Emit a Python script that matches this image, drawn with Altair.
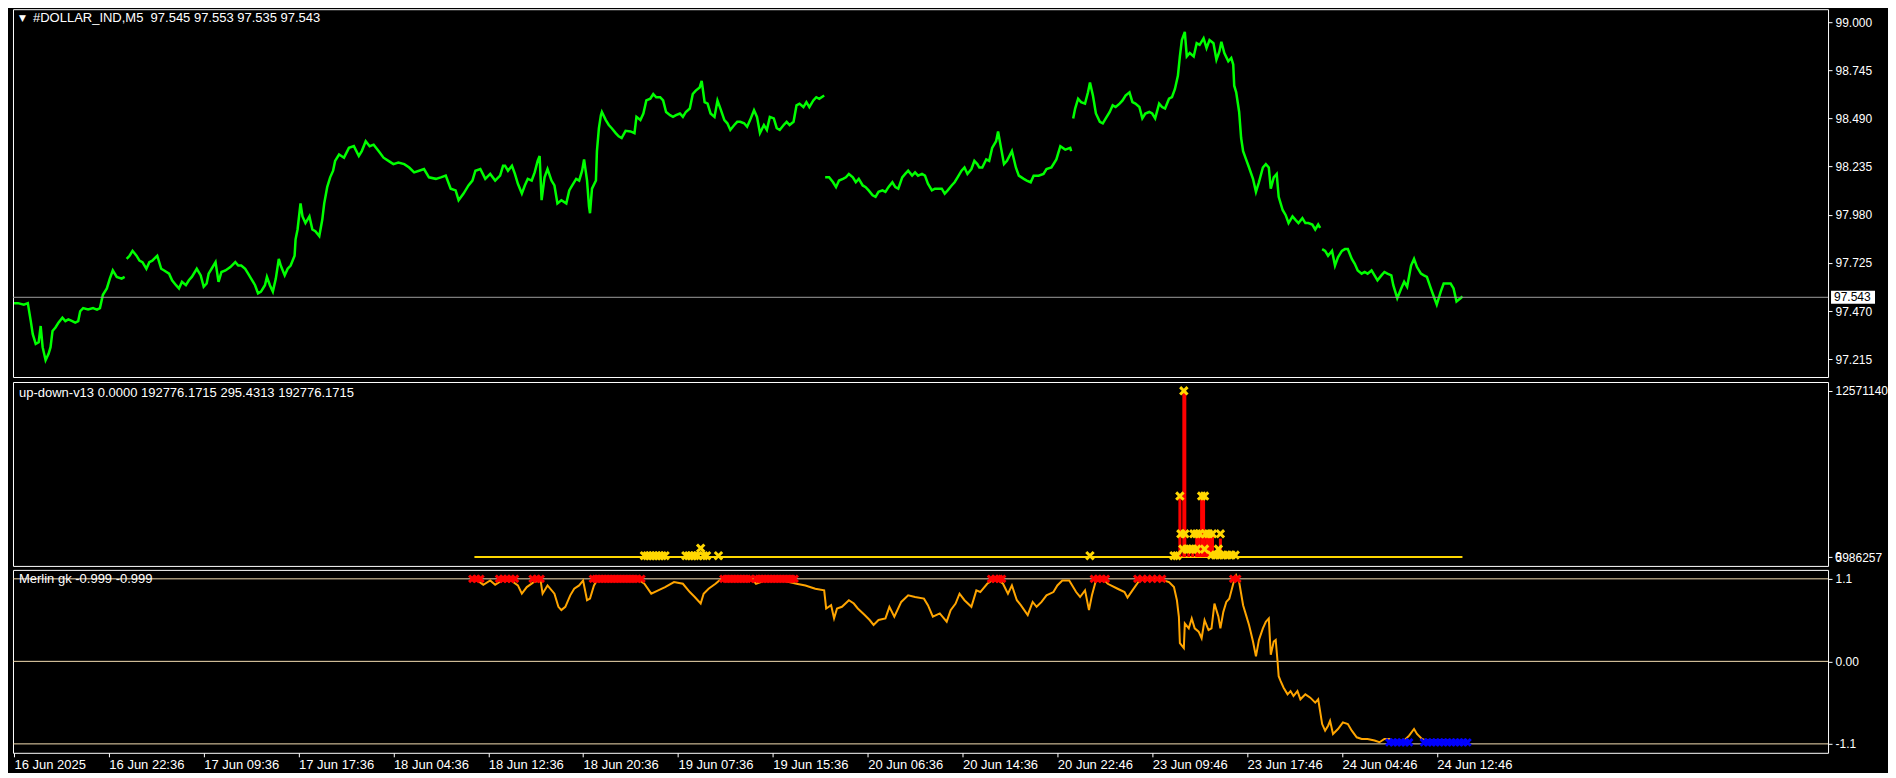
import altair as alt
import pandas as pd

# ---------------- price panel: #DOLLAR_IND, M5 (bar index, close) ----------------
seg1_x = [3, 7, 13, 17, 20, 22, 25, 28, 30, 32, 35, 38, 40, 42, 45, 48, 52, 55, 58, 62, 65, 68, 70, 73, 78, 83, 87, 90, 93, 97, 100, 103, 107, 112, 115]
seg1_p = [97.512, 97.512, 97.504, 97.512, 97.417, 97.348, 97.296, 97.305, 97.391, 97.279, 97.210, 97.244, 97.279, 97.365, 97.383, 97.409, 97.435, 97.417, 97.426, 97.417, 97.409, 97.417, 97.469, 97.486, 97.478, 97.486, 97.478, 97.486, 97.556, 97.590, 97.642, 97.685, 97.651, 97.642, 97.651]

seg2_x = [117, 120, 123, 127, 130, 133, 137, 140, 143, 148, 152, 155, 160, 163, 167, 170, 173, 177, 180, 183, 188, 192, 195, 198, 200, 203, 207, 210, 213, 217, 222, 227, 230, 233, 237, 240, 243, 247, 250, 253, 257, 259, 262, 265, 268, 271, 273, 277, 280, 283, 287, 288, 290, 293, 295, 298, 302, 305, 308, 312, 315, 317, 320, 323, 326, 328, 332, 337, 342, 347, 352, 355, 359, 363, 367, 372, 377, 382, 387, 392, 398, 403, 408, 413, 418, 423, 430, 435, 440, 445, 450, 453, 458, 463, 467, 470, 475, 480, 485, 490, 495, 498,
          500, 503, 507, 510, 513, 517, 520, 523, 527, 530, 533, 535, 537, 540, 543, 547, 550, 553, 557, 562, 565, 568, 572, 575, 578, 580, 583, 585, 586, 588, 592, 593, 595, 597, 598, 602, 605, 608, 612, 615, 618, 622, 627, 631, 633, 637, 640, 643, 647, 650, 653, 657, 660, 663, 667, 670, 673, 677, 680, 683, 687, 690, 693, 697, 699, 702, 705, 708, 712, 715, 718, 722, 725, 728, 732, 735, 738, 742, 745, 748, 752, 755, 758, 762, 765, 768, 772, 775, 778, 782, 785, 788, 792, 795, 798, 802, 805, 808, 812, 815, 818, 823]
seg2_p = [97.746, 97.763, 97.789, 97.763, 97.737, 97.729, 97.694, 97.729, 97.737, 97.763, 97.694, 97.685, 97.668, 97.633, 97.607, 97.590, 97.625, 97.607, 97.633, 97.651, 97.694, 97.659, 97.599, 97.616, 97.668, 97.694, 97.729, 97.625, 97.677, 97.685, 97.703, 97.729, 97.711, 97.711, 97.694, 97.668, 97.642, 97.607, 97.564, 97.573, 97.607, 97.651, 97.607, 97.573, 97.642, 97.746, 97.711, 97.659, 97.694, 97.711, 97.763, 97.850, 97.902, 98.040, 97.971, 97.936, 97.971, 97.902, 97.893, 97.867, 97.953, 98.040, 98.126, 98.178, 98.213, 98.265, 98.299, 98.282, 98.334, 98.343, 98.291, 98.317, 98.369, 98.343, 98.351, 98.317, 98.282, 98.265, 98.248, 98.256, 98.248, 98.230, 98.204, 98.213, 98.222, 98.178, 98.170, 98.178, 98.187, 98.118, 98.109, 98.057, 98.092, 98.135, 98.161, 98.213, 98.222, 98.170, 98.196, 98.161, 98.187, 98.239,
          98.239, 98.213, 98.239, 98.196, 98.144, 98.092, 98.135, 98.170, 98.161, 98.204, 98.265, 98.291, 98.057, 98.178, 98.222, 98.161, 98.135, 98.040, 98.057, 98.040, 98.109, 98.135, 98.170, 98.161, 98.213, 98.273, 98.161, 98.023, 97.988, 98.118, 98.161, 98.317, 98.438, 98.507, 98.524, 98.481, 98.455, 98.438, 98.412, 98.395, 98.386, 98.424, 98.421, 98.412, 98.498, 98.481, 98.516, 98.585, 98.594, 98.619, 98.602, 98.602, 98.585, 98.524, 98.507, 98.498, 98.507, 98.516, 98.498, 98.524, 98.542, 98.619, 98.637, 98.654, 98.689, 98.576, 98.568, 98.516, 98.498, 98.585, 98.542, 98.481, 98.464, 98.429, 98.455, 98.472, 98.472, 98.464, 98.446, 98.481, 98.533, 98.498, 98.412, 98.455, 98.429, 98.498, 98.490, 98.438, 98.429, 98.455, 98.472, 98.455, 98.472, 98.559, 98.568, 98.550, 98.576, 98.550, 98.585, 98.602, 98.594, 98.611]

seg3_x = [824, 828, 832, 835, 838, 842, 845, 848, 852, 855, 858, 862, 865, 868, 872, 875, 878, 882, 885, 888, 892, 895, 898, 902, 905, 908, 912, 915, 918, 922, 925, 928, 932, 935, 938, 942, 945, 948, 952, 955, 958, 962, 965, 968, 972, 975, 978, 980, 983, 987, 990, 993, 997, 999, 1002, 1005, 1008, 1013, 1017, 1020, 1025, 1028, 1032, 1035, 1040, 1045, 1048, 1053, 1058, 1062, 1067, 1072, 1073]
seg3_p = [98.178, 98.178, 98.152, 98.126, 98.161, 98.170, 98.178, 98.196, 98.178, 98.152, 98.170, 98.135, 98.126, 98.109, 98.083, 98.075, 98.101, 98.109, 98.101, 98.126, 98.152, 98.126, 98.118, 98.178, 98.196, 98.213, 98.187, 98.204, 98.187, 98.196, 98.187, 98.144, 98.109, 98.118, 98.118, 98.118, 98.092, 98.109, 98.135, 98.152, 98.178, 98.213, 98.230, 98.196, 98.222, 98.265, 98.248, 98.230, 98.230, 98.273, 98.265, 98.334, 98.369, 98.421, 98.334, 98.248, 98.265, 98.317, 98.230, 98.187, 98.170, 98.161, 98.152, 98.187, 98.187, 98.196, 98.222, 98.230, 98.273, 98.343, 98.325, 98.334, 98.317]

seg4_x = [1075, 1077, 1080, 1083, 1087, 1090, 1092, 1095, 1098, 1102, 1105, 1108, 1112, 1115, 1118, 1122, 1125, 1128, 1132, 1135, 1138, 1142, 1145, 1148, 1152, 1155, 1158, 1162, 1165, 1168, 1172, 1175, 1178, 1181, 1183, 1185, 1188, 1190, 1193, 1197, 1200, 1203, 1207, 1210, 1213, 1217, 1220, 1223, 1225, 1228, 1232, 1235, 1237, 1238, 1240, 1243, 1245, 1247, 1250, 1253, 1257, 1260, 1263, 1267, 1270, 1273, 1275, 1278, 1281, 1283, 1287, 1290, 1293, 1297, 1300, 1303, 1307, 1310, 1313, 1317, 1320, 1323, 1325]
seg4_p = [98.490, 98.542, 98.594, 98.576, 98.568, 98.628, 98.680, 98.611, 98.516, 98.472, 98.464, 98.490, 98.524, 98.559, 98.550, 98.568, 98.585, 98.611, 98.628, 98.576, 98.568, 98.550, 98.490, 98.516, 98.524, 98.516, 98.490, 98.568, 98.550, 98.542, 98.594, 98.602, 98.646, 98.715, 98.818, 98.905, 98.948, 98.818, 98.836, 98.818, 98.888, 98.879, 98.914, 98.862, 98.905, 98.888, 98.801, 98.844, 98.896, 98.836, 98.792, 98.810, 98.775, 98.663, 98.628, 98.524, 98.386, 98.317, 98.273, 98.230, 98.170, 98.101, 98.152, 98.230, 98.248, 98.230, 98.118, 98.178, 98.196, 98.075, 98.005, 97.979, 97.936, 97.971, 97.953, 97.936, 97.962, 97.936, 97.936, 97.928, 97.902, 97.928, 97.910]

seg5_x = [1327, 1330, 1333, 1337, 1340, 1343, 1347, 1350, 1353, 1357, 1360, 1363, 1367, 1370, 1373, 1377, 1380, 1383, 1387, 1390, 1393, 1397, 1399, 1403, 1407, 1410, 1413, 1417, 1420, 1423, 1427, 1430, 1433, 1437, 1440, 1443, 1447, 1450, 1453, 1457, 1460, 1463, 1467, 1469]
seg5_p = [97.798, 97.789, 97.763, 97.789, 97.711, 97.755, 97.789, 97.798, 97.798, 97.746, 97.720, 97.685, 97.668, 97.677, 97.668, 97.685, 97.659, 97.633, 97.659, 97.677, 97.668, 97.659, 97.607, 97.538, 97.590, 97.625, 97.599, 97.711, 97.746, 97.703, 97.668, 97.659, 97.651, 97.590, 97.547, 97.504, 97.573, 97.616, 97.616, 97.616, 97.590, 97.521, 97.538, 97.547]

last_price = 97.543
price_ticks = [97.215, 97.470, 97.725, 97.980, 98.235, 98.490, 98.745, 99.000]
price_title = "#DOLLAR_IND,M5\u00a0\u00a097.545 97.553 97.535 97.543"

# ---------------- up-down-v13 panel ----------------
ud_bar_x = [1183, 1187, 1188, 1192, 1196, 1200, 1202, 1205, 1207, 1210, 1213, 1216, 1224]
ud_bar_v = [4610000, 12571140, 12571140, 600000, 600000, 1760000, 1760000, 4610000, 4610000, 1760000, 1760000, 1760000, 1400000]
ud_mark_x = [641, 644, 647, 650, 653, 656, 659, 662, 683, 686, 689, 692, 695, 701, 704, 698, 716, 1092,
             1177, 1180, 1183, 1187, 1205, 1208,
             1184, 1188, 1197, 1200, 1203, 1209, 1212, 1216, 1224,
             1186, 1190, 1193, 1196, 1200, 1208, 1222,
             1215, 1219, 1223, 1227, 1231, 1235, 1239]
ud_mark_v = [100000, 100000, 100000, 100000, 100000, 100000, 100000, 100000, 100000, 100000, 100000, 100000, 100000, 100000, 100000, 670000, 100000, 100000,
             100000, 100000, 4610000, 12571140, 4610000, 4610000,
             1760000, 1760000, 1760000, 1760000, 1760000, 1760000, 1760000, 1760000, 1760000,
             600000, 600000, 600000, 600000, 600000, 600000, 600000,
             150000, 150000, 150000, 150000, 150000, 150000, 150000]
ud_line_from, ud_line_to, ud_line_v = 469, 1469, 0
ud_max = 12571140
ud_title = "up-down-v13 0.0000 192776.1715 295.4313 192776.1715"

# ---------------- Merlin gk panel ----------------
merlin_x = [467, 472, 478, 485, 490, 497, 506, 513, 517, 522, 529, 536, 538, 543, 550, 554, 557, 561, 566, 570, 575, 579, 583, 586, 590, 593, 598, 612, 634, 641, 648, 655, 662, 671, 680, 687, 692, 698, 701, 706, 713, 717, 722, 750, 754, 763, 781, 795, 804, 814, 823, 825, 830, 833, 836, 841, 848, 853, 857, 864, 869, 873, 878, 885, 889, 894, 901, 908, 915, 924, 928, 933, 940, 947, 951, 956, 960, 965, 972, 977, 981, 988, 993, 997, 1004, 1009, 1013, 1018, 1022, 1029, 1034, 1038, 1043, 1048, 1055, 1059, 1064, 1071, 1078, 1082, 1087, 1091, 1094, 1098, 1107,
            1110, 1120, 1127, 1130, 1135, 1142, 1147, 1167, 1172, 1177, 1180, 1182, 1183, 1187, 1188, 1192, 1195, 1198, 1202, 1205, 1208, 1212, 1215, 1218, 1222, 1224, 1227, 1230, 1233, 1237, 1240, 1243, 1247, 1250, 1253, 1257, 1260, 1263, 1267, 1270, 1273, 1275, 1278, 1280, 1282, 1283, 1285, 1288, 1292, 1295, 1298, 1302, 1305, 1310, 1315, 1320, 1323, 1327, 1330, 1333, 1335, 1338, 1343, 1348, 1353, 1357, 1362, 1367, 1373, 1380, 1385, 1390, 1395, 1400, 1405, 1410, 1415, 1420, 1423, 1428, 1433, 1440, 1448, 1453, 1460, 1470]
merlin_v = [1.078, 1.078, 1.021, 1.078, 1.021, 1.078, 1.078, 1.012, 0.902, 0.990, 1.056, 1.078, 0.902, 1.012, 0.902, 0.727, 0.683, 0.727, 0.880, 0.968, 1.012, 1.078, 0.815, 0.836, 1.012, 1.078, 1.100, 1.100, 1.100, 1.034, 0.902, 0.946, 0.990, 1.056, 1.034, 0.924, 0.858, 0.771, 0.902, 0.968, 1.034, 1.078, 1.100, 1.100, 1.034, 1.078, 1.078, 1.034, 1.012, 0.968, 0.946, 0.705, 0.749, 0.573, 0.705, 0.727, 0.815, 0.771, 0.705, 0.617, 0.551, 0.485, 0.551, 0.573, 0.727, 0.595, 0.792, 0.880, 0.858, 0.836, 0.749, 0.595, 0.639, 0.529, 0.683, 0.771, 0.902, 0.815, 0.727, 0.946, 0.924, 1.034, 1.078, 1.100, 1.034, 0.902, 1.012, 0.815, 0.749, 0.617, 0.792, 0.727, 0.792, 0.880, 0.924, 1.012, 1.078, 1.078, 0.924, 0.858, 0.946, 0.683, 0.880, 1.078, 1.078,
            1.034, 0.968, 0.924, 0.849, 0.946, 1.078, 1.100, 1.078, 1.056, 0.990, 0.814, 0.594, 0.242, 0.176, 0.506, 0.440, 0.572, 0.440, 0.396, 0.308, 0.550, 0.418, 0.440, 0.770, 0.594, 0.440, 0.660, 0.792, 0.836, 1.034, 1.144, 1.056, 0.748, 0.616, 0.484, 0.264, 0.066, 0.286, 0.440, 0.528, 0.572, 0.088, 0.264, 0.286, -0.022, -0.198, -0.264, -0.352, -0.440, -0.396, -0.462, -0.396, -0.506, -0.440, -0.484, -0.550, -0.506, -0.836, -0.924, -0.858, -0.792, -0.968, -0.902, -0.814, -0.836, -0.924, -1.012, -1.034, -1.034, -1.056, -1.078, -1.034, -1.034, -1.078, -1.100, -1.056, -0.990, -0.902, -0.968, -1.034, -1.056, -1.056, -1.056, -1.056, -1.078, -1.078]
merlin_up_x = [467, 471, 475, 494, 498, 502, 506, 510, 528, 532, 536,
               589, 592, 595, 598, 601, 604, 607, 610, 613, 616, 619, 622, 625, 628, 631, 634, 638,
               721, 724, 727, 730, 733, 736, 739, 742, 745, 748,
               754, 757, 760, 763, 766, 769, 772, 775, 778, 781, 784, 787, 790, 793,
               992, 996, 1000, 1003, 1096, 1100, 1104, 1108,
               1140, 1145, 1150, 1155, 1160, 1165, 1237, 1241]
merlin_up_v = 1.1
merlin_dn_x = [1395, 1399, 1403, 1407, 1411, 1415, 1430, 1434, 1438, 1442, 1446, 1450, 1454, 1458, 1462, 1466, 1470, 1474]
merlin_dn_v = -1.08
merlin_levels = [1.1, 0.0, -1.1]
merlin_tick_labels = ["1.1", "0.00", "-1.1"]
merlin_title = "Merlin gk -0.999 -0.999"

# ---------------- time axis ----------------
time_ticks = [3, 99, 195, 291, 387, 483, 579, 675, 771, 867, 963, 1059, 1155, 1251, 1347, 1443]
time_labels = ["16 Jun 2025", "16 Jun 22:36", "17 Jun 09:36", "17 Jun 17:36", "18 Jun 04:36", "18 Jun 12:36",
               "18 Jun 20:36", "19 Jun 07:36", "19 Jun 15:36", "20 Jun 06:36", "20 Jun 14:36", "20 Jun 22:46",
               "23 Jun 09:46", "23 Jun 17:46", "24 Jun 04:46", "24 Jun 12:46"]

# ---------------- build ----------------
W = 1816
H1, H2, H3 = 368, 184, 183
FONT = "Liberation Sans"
XDOM = [2, 1839]
xs_none = alt.Scale(domain=XDOM, nice=False, zero=False)
XSHOW = alt.X("x:Q", scale=xs_none, axis=None)

segs = []
for i, (sx, sp) in enumerate([(seg1_x, seg1_p), (seg2_x, seg2_p), (seg3_x, seg3_p), (seg4_x, seg4_p), (seg5_x, seg5_p)]):
    segs.append(pd.DataFrame({"x": sx, "v": sp, "seg": i}))
price_df = pd.concat(segs, ignore_index=True)

top_scale = alt.Scale(domain=[97.121, 99.068], nice=False, zero=False)
top_axis = alt.Axis(orient="right", values=price_ticks, format=".3f", title=None)
YT = alt.Y("v:Q", scale=top_scale, axis=top_axis)

price_line = alt.Chart(price_df).mark_line(color="#00ff00", strokeWidth=2.5).encode(x=XSHOW, y=YT, detail="seg:N")
last_df = pd.DataFrame({"v": [last_price], "t": [f"{last_price:.3f}"]})
last_rule = alt.Chart(last_df).mark_rule(color="#a0a0a0", strokeWidth=1).encode(y=YT)
last_box = alt.Chart(last_df).mark_tick(color="white", orient="horizontal", size=44, thickness=13, opacity=1).encode(
    y=YT, x=alt.value(W + 25))
last_txt = alt.Chart(last_df).mark_text(color="black", align="left", baseline="middle", font=FONT, fontSize=12).encode(
    y=YT, x=alt.value(W + 6), text="t:N")
title_df = pd.DataFrame({"t": [price_title], "a": ["\u25bc"]})
tri = alt.Chart(title_df).mark_text(color="white", align="left", baseline="middle", font="DejaVu Sans", fontSize=9).encode(
    x=alt.value(6), y=alt.value(9), text="a:N")
ttl = alt.Chart(title_df).mark_text(color="white", align="left", baseline="middle", font=FONT, fontSize=13).encode(
    x=alt.value(20), y=alt.value(9), text="t:N")
top = alt.layer(price_line, last_rule, last_box, last_txt, tri, ttl).properties(width=W, height=H1)

# middle
mid_scale = alt.Scale(domain=[-669000, 13240000], nice=False, zero=False)
mid_axis = alt.Axis(orient="right", values=[0, ud_max], title=None,
                    labelExpr="datum.value == 0 ? '5986257' : '12571140'")
YM = alt.Y("v:Q", scale=mid_scale, axis=mid_axis)
line_df = pd.DataFrame({"x": [ud_line_from], "x2": [ud_line_to], "v": [ud_line_v]})
ud_line = alt.Chart(line_df).mark_rule(color="#ffd700", strokeWidth=2).encode(x=XSHOW, x2="x2:Q", y=YM)
bars_df = pd.DataFrame({"x": ud_bar_x, "v": ud_bar_v, "b": [ud_line_v] * len(ud_bar_x)})
ud_bars = alt.Chart(bars_df).mark_rule(color="#ff0000", strokeWidth=3).encode(x=XSHOW, y=YM, y2="b:Q")
XSHAPE = "M-1,-1L1,1M-1,1L1,-1"
marks_df = pd.DataFrame({"x": ud_mark_x, "v": ud_mark_v})
ud_marks = alt.Chart(marks_df).mark_point(shape=XSHAPE, filled=False, color="#ffd700", strokeWidth=3, size=55, opacity=1).encode(
    x=XSHOW, y=YM)
mt_df = pd.DataFrame({"t": [ud_title], "z": ["0"], "v": [0]})
mid_ttl = alt.Chart(mt_df).mark_text(color="white", align="left", baseline="middle", font=FONT, fontSize=13).encode(
    x=alt.value(6), y=alt.value(11), text="t:N")
zero_txt = alt.Chart(mt_df).mark_text(color="white", align="left", baseline="middle", font=FONT, fontSize=12).encode(
    x=alt.value(W + 7), y=YM, text="z:N")
mid = alt.layer(ud_line, ud_bars, ud_marks, mid_ttl, zero_txt).properties(width=W, height=H2)

# bottom
bot_scale = alt.Scale(domain=[-1.219, 1.219], nice=False, zero=False)
bot_axis = alt.Axis(orient="right", values=merlin_levels, title=None,
                    labelExpr="%s[indexof(%s, datum.value)]" % (str(merlin_tick_labels), str(merlin_levels)))
YB = alt.Y("v:Q", scale=bot_scale, axis=bot_axis)
x_axis = alt.Axis(values=time_ticks, title=None, labelAlign="left", tickSize=4, labelPadding=2, labelFontSize=13,
                  labelExpr="%s[indexof(%s, datum.value)]" % (str(time_labels), str(time_ticks)))
XB = alt.X("x:Q", scale=xs_none, axis=x_axis)
lvl_df = pd.DataFrame({"v": merlin_levels})
levels = alt.Chart(lvl_df).mark_rule(color="#f5deb3", strokeWidth=1).encode(y=YB)
mer_df = pd.DataFrame({"x": merlin_x, "v": merlin_v})
mer_line = alt.Chart(mer_df).mark_line(color="#ffa500", strokeWidth=2).encode(x=XB, y=YB)
up_df = pd.DataFrame({"x": merlin_up_x, "v": [merlin_up_v] * len(merlin_up_x)})
up_marks = alt.Chart(up_df).mark_point(shape=XSHAPE, filled=False, color="#ff0000", strokeWidth=3, size=45, opacity=1).encode(x=XB, y=YB)
dn_df = pd.DataFrame({"x": merlin_dn_x, "v": [merlin_dn_v] * len(merlin_dn_x)})
dn_marks = alt.Chart(dn_df).mark_point(shape=XSHAPE, filled=False, color="#0000ff", strokeWidth=3, size=45, opacity=1).encode(x=XB, y=YB)
bt_df = pd.DataFrame({"t": [merlin_title]})
bot_ttl = alt.Chart(bt_df).mark_text(color="white", align="left", baseline="middle", font=FONT, fontSize=13).encode(
    x=alt.value(6), y=alt.value(9), text="t:N")
bot = alt.layer(levels, mer_line, up_marks, dn_marks, bot_ttl).properties(width=W, height=H3)

chart = alt.vconcat(top, mid, bot, spacing=2).configure(
    background="black", padding={"left": 0, "top": 0, "right": 0, "bottom": 0}
).configure_view(stroke="white", strokeWidth=1, fill="black").configure_axis(
    labelColor="white", tickColor="white", domain=False, grid=False, labelFont=FONT, labelFontSize=12,
    tickSize=4, labelPadding=3
)

chart.save("out.html", embed_options={"renderer": "svg", "actions": False})
